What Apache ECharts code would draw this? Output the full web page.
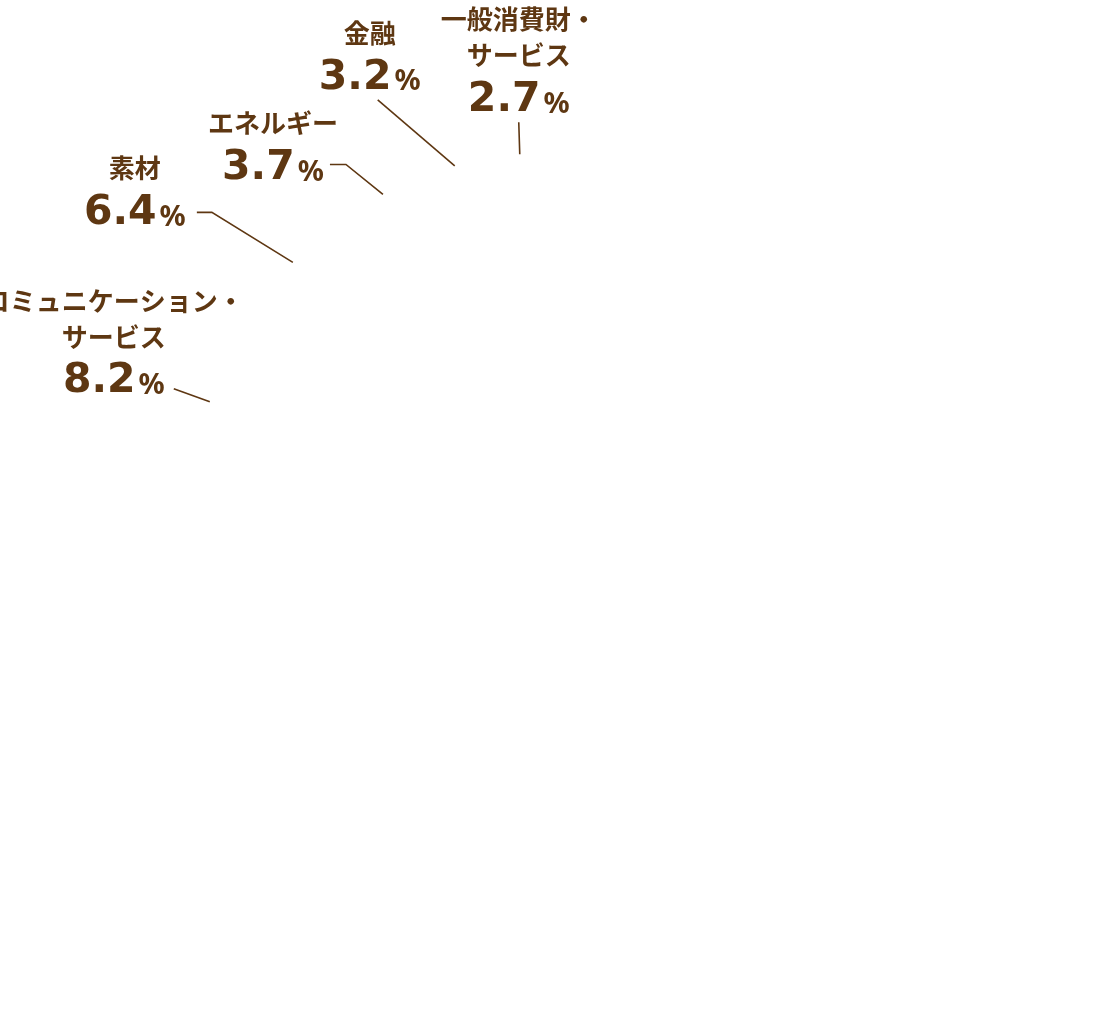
<!DOCTYPE html>
<html>
<head>
<meta charset="utf-8">
<script src="https://cdn.jsdelivr.net/npm/echarts@6/dist/echarts.min.js"></script>
<style>
  html, body { margin: 0; padding: 0; background: #fff; }
  #chart { width: 1100px; height: 1020px; }
</style>
</head>
<body>
<div id="chart"></div>
<script>
const categories = ["一般消費財・\nサービス", "金融", "エネルギー", "素材", "コミュニケーション・\nサービス", "その他"];
const shares = [2.7, 3.2, 3.7, 6.4, 8.2, 75.8];
const labelled = [true, true, true, true, true, false];

// leader line bends and label anchor (bottom centre), relative to the slice edge point
const lineBends = [
  [[-1, -32]],
  [[-77, -66]],
  [[-37, -30], [-53, -30]],
  [[-81, -50], [-96, -50]],
  [[-36, -13]],
  null
];
const labelAnchors = [[-1, -27], [-85, -61], [-110, 1], [-158, -22], [-96, 7], null];

const brown = "#5e3712";

const chart = echarts.init(document.getElementById("chart"));

const seriesData = categories.map(function (name, i) {
  const item = { name: name, value: shares[i] };
  if (!labelled[i]) {
    item.label = { show: false };
    item.labelLine = { show: false };
  }
  return item;
});

chart.setOption({
  animation: false,
  series: [
    {
      type: "pie",
      center: ["50%", "50%"],
      radius: "70%",
      startAngle: 90,
      clockwise: false,
      avoidLabelOverlap: false,
      silent: true,
      itemStyle: { color: "rgba(255,255,255,0)", borderWidth: 0 },
      emphasis: { disabled: true },
      label: {
        show: true,
        position: "outside",
        formatter: function (p) {
          const nameLines = p.name.split("\n").map(function (s) { return "{n|" + s + "}"; });
          return nameLines.join("\n") + "\n{v|" + p.value + "}{p|%}";
        },
        rich: {
          n: {
            fontFamily: "Noto Sans CJK JP",
            fontWeight: "bold",
            fontSize: 26,
            lineHeight: 36,
            color: brown
          },
          v: {
            fontFamily: "DejaVu Sans",
            fontWeight: "bold",
            fontSize: 41,
            lineHeight: 54,
            color: brown
          },
          p: {
            fontFamily: "Noto Sans",
            fontWeight: "bold",
            fontSize: 29,
            lineHeight: 54,
            padding: [8, 0, 0, 3],
            color: brown
          }
        }
      },
      labelLine: {
        show: true,
        length: 30,
        length2: 10,
        lineStyle: { color: brown, width: 1.6 }
      },
      labelLayout: function (params) {
        const i = params.dataIndex;
        const anchor = labelAnchors[i];
        if (!anchor || !params.labelLinePoints) return {};
        const p0 = params.labelLinePoints[0];
        const pts = [[p0[0], p0[1]]].concat(lineBends[i].map(function (b) {
          return [p0[0] + b[0], p0[1] + b[1]];
        }));
        return {
          x: p0[0] + anchor[0],
          y: p0[1] + anchor[1],
          align: "center",
          verticalAlign: "bottom",
          labelLinePoints: pts
        };
      },
      data: seriesData
    }
  ]
});
</script>
</body>
</html>
